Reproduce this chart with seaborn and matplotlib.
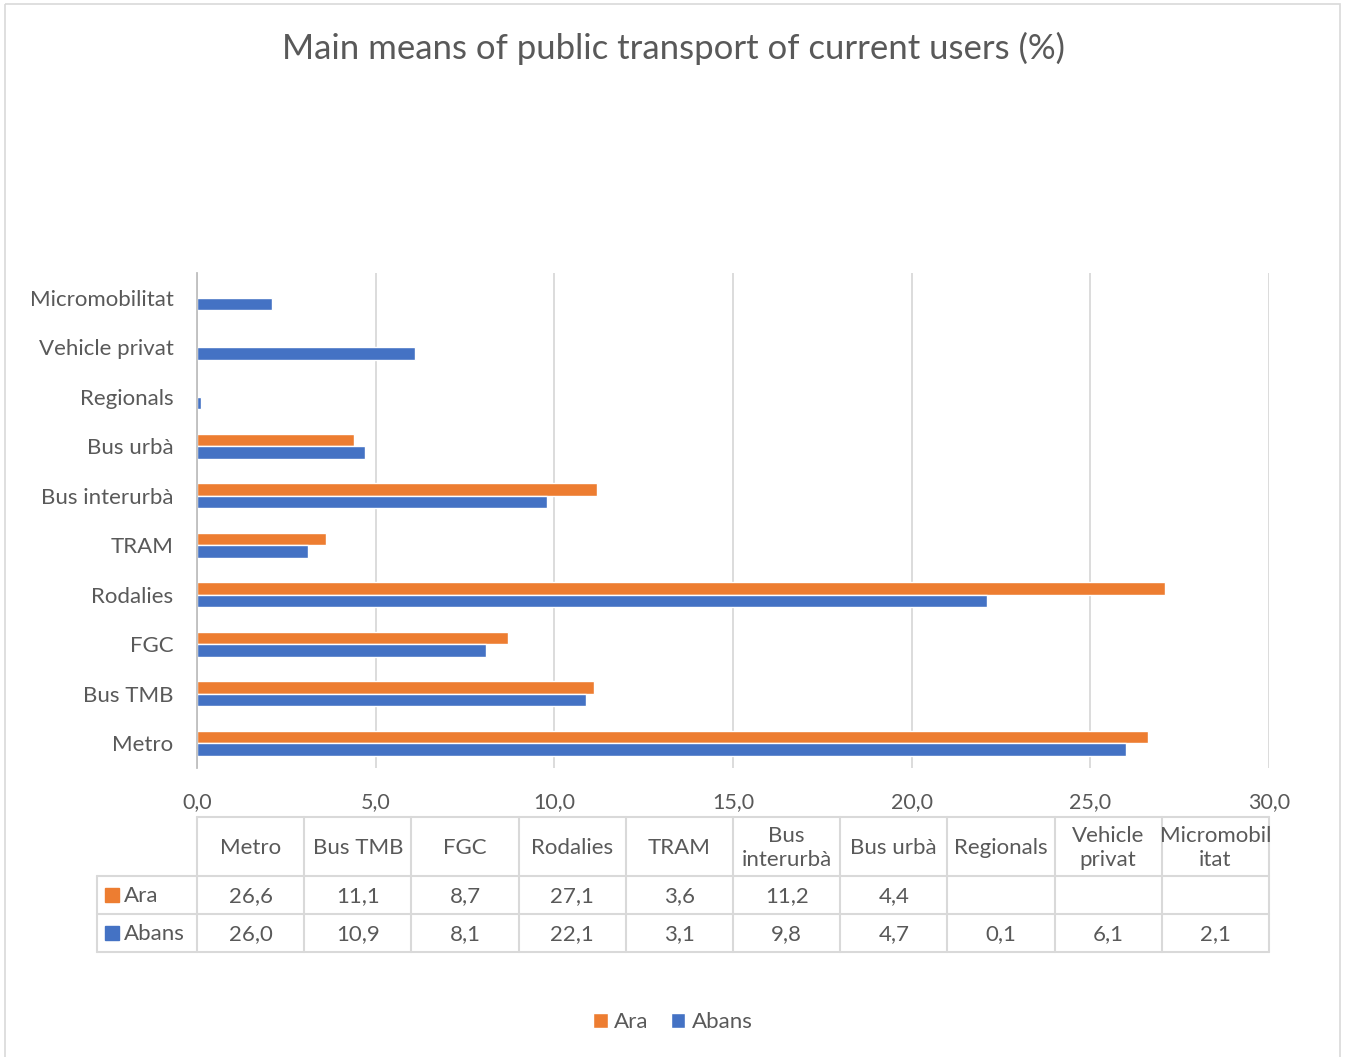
import numpy as np
import pandas as pd
import seaborn as sns
import matplotlib.pyplot as plt
from matplotlib.patches import Rectangle, Patch

# ---------------- data ----------------
categories = ["Metro", "Bus TMB", "FGC", "Rodalies", "TRAM", "Bus interurbà",
              "Bus urbà", "Regionals", "Vehicle privat", "Micromobilitat"]
table_headers = ["Metro", "Bus TMB", "FGC", "Rodalies", "TRAM", "Bus\ninterurbà",
                 "Bus urbà", "Regionals", "Vehicle\nprivat", "Micromobil\nitat"]
ara = [26.6, 11.1, 8.7, 27.1, 3.6, 11.2, 4.4, np.nan, np.nan, np.nan]
abans = [26.0, 10.9, 8.1, 22.1, 3.1, 9.8, 4.7, 0.1, 6.1, 2.1]
series_names = ["Ara", "Abans"]
series_colors = ["#ED7D31", "#4472C4"]
x_ticks = [0, 5, 10, 15, 20, 25, 30]
title = "Main means of public transport of current users (%)"

df = pd.DataFrame({
    "category": categories * 2,
    "series": ["Ara"] * len(categories) + ["Abans"] * len(categories),
    "value": ara + abans,
})

W, H = 1346, 1057
TXT = "#595959"
GRID = "#D9D9D9"
FONT = "Lato"
FS = 16

sns.set_theme(style="white")
plt.rcParams["font.family"] = [FONT, "DejaVu Sans"]

fig = plt.figure(figsize=(W / 100, H / 100), dpi=100)

left_px, right_px, top_px, bottom_px = 197, 1269, 273, 768
ax = fig.add_axes([left_px / W, 1 - bottom_px / H,
                   (right_px - left_px) / W, (bottom_px - top_px) / H])

sns.barplot(data=df, y="category", x="value", hue="series",
            order=categories[::-1], hue_order=series_names,
            palette=dict(zip(series_names, series_colors)),
            width=0.5, orient="h", saturation=1, legend=False,
            errorbar=None, ax=ax, zorder=3)

ax.set_xlim(x_ticks[0], x_ticks[-1])
ax.set_ylim(len(categories) - 0.5, -0.5)
ax.set_xticks(x_ticks)
ax.set_xticklabels([f"{v:.1f}".replace(".", ",") for v in x_ticks],
                   fontsize=15.5, color=TXT)
ax.tick_params(axis="x", length=0, pad=17)
ax.tick_params(axis="y", length=0, pad=17, labelsize=FS, labelcolor=TXT)
ax.set_xlabel("")
ax.set_ylabel("")
ax.xaxis.grid(True, color=GRID, lw=1.3)
ax.set_axisbelow(True)
for s in ["top", "right", "bottom"]:
    ax.spines[s].set_visible(False)
ax.spines["left"].set_color("#BFBFBF")
ax.spines["left"].set_linewidth(1.3)
ax.spines["left"].set_zorder(4)
for t in ax.get_yticklabels():
    t.set_color(TXT)

# title
fig.text(0.5, 1 - 48 / H, title, ha="center", va="center", fontsize=25, color=TXT)

# ---------------- data table ----------------
tax = fig.add_axes([0, 0, 1, 1], facecolor="none")
tax.set_xlim(0, W)
tax.set_ylim(H, 0)
tax.axis("off")

col_edges = np.linspace(left_px, right_px, len(categories) + 1)
row_y = [817, 876, 914, 952]
label_left = 97
lw = 1.5
tax.plot([col_edges[0], col_edges[-1]], [row_y[0], row_y[0]], color=GRID, lw=lw)
for y in row_y[1:]:
    tax.plot([label_left, col_edges[-1]], [y, y], color=GRID, lw=lw)
tax.plot([label_left, label_left], [row_y[1], row_y[3]], color=GRID, lw=lw)
for x in col_edges:
    tax.plot([x, x], [row_y[0], row_y[3]], color=GRID, lw=lw)

centers = (col_edges[:-1] + col_edges[1:]) / 2
for cx, h in zip(centers, table_headers):
    tax.text(cx, (row_y[0] + row_y[1]) / 2 + 1, h, ha="center", va="center",
             fontsize=FS, color=TXT, linespacing=1.25)
for ri, (name, color, vals) in enumerate(zip(series_names, series_colors, [ara, abans])):
    yc = (row_y[ri + 1] + row_y[ri + 2]) / 2
    tax.add_patch(Rectangle((105, yc - 7), 14, 14, color=color))
    tax.text(124, yc + 1, name, ha="left", va="center", fontsize=FS, color=TXT)
    for cx, v in zip(centers, vals):
        if not np.isnan(v):
            tax.text(cx, yc + 1, f"{v:.1f}".replace(".", ","), ha="center", va="center",
                     fontsize=FS, color=TXT)

# outer border
tax.add_patch(Rectangle((5, 4), 1335, 1060, fill=False, edgecolor="#D9D9D9", lw=1.2))

# legend
handles = [Patch(facecolor=c, label=n) for n, c in zip(series_names, series_colors)]
fig.legend(handles=handles, loc="center", bbox_to_anchor=(0.5, 1 - 1022 / H),
           ncol=2, frameon=False, fontsize=FS, labelcolor=TXT,
           handlelength=0.65, handleheight=0.65, handletextpad=0.3, columnspacing=1.0)

fig.savefig("out.png", dpi=100, facecolor="white")
